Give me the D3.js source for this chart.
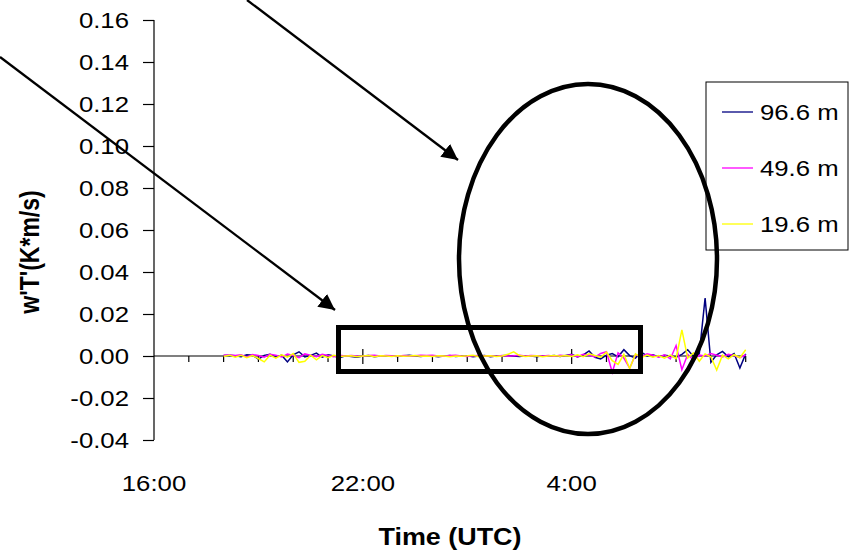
<!DOCTYPE html>
<html>
<head>
<meta charset="utf-8">
<script src="https://cdn.jsdelivr.net/npm/d3@7/dist/d3.min.js"></script>
<style>
  html, body { margin: 0; padding: 0; background: #fff; }
  svg { display: block; font-family: "Liberation Sans", Arial, sans-serif; }
</style>
</head>
<body>
<svg id="chart" width="857" height="551"></svg>
<script>
// Sensible heat flux w'T' (K*m/s), 10-minute values from 18:00 to 9:00 UTC
const startHour = 2;          // first sample, hours after 16:00
const stepHours = 1 / 6;      // 10-minute spacing

const series = ["96.6 m", "49.6 m", "19.6 m"];
const colors = ["#000080", "#ff00ff", "#ffff00"];

const flux966 = [
  0.0002, 0.0004, 0.0001, -0.0003, 0.0006, 0.0004, -0.0015, 0.0003, 0.0008, -0.0006,
  0.0004, -0.0028, 0.0006, 0.0020, -0.0004, 0.0003, 0.0014, -0.0006, 0.0006, 0.0000,
  -0.0008, 0.0001, -0.0002, -0.0006, 0.0000, 0.0002, -0.0003, 0.0000, 0.0001, 0.0000,
  -0.0002, 0.0001, 0.0003, 0.0000, -0.0002, 0.0001, 0.0000, -0.0003, 0.0000, 0.0002,
  -0.0002, 0.0000, 0.0001, -0.0004, 0.0000, 0.0002, -0.0003, 0.0000, 0.0001, 0.0003,
  0.0000, -0.0002, 0.0001, 0.0000, -0.0003, 0.0001, 0.0000, 0.0002, -0.0002, 0.0003,
  0.0008, -0.0004, 0.0005, 0.0024, -0.0006, -0.0014, 0.0004, 0.0012, -0.0004, 0.0030,
  0.0002, -0.0010, 0.0018, 0.0000, 0.0006, -0.0004, 0.0003, 0.0000, -0.0006, 0.0008,
  0.0030, -0.0002, 0.0010, 0.0276, -0.0030, 0.0006, 0.0022, -0.0004, 0.0012, -0.0057,
  0.0010
];

const flux496 = [
  0.0003, 0.0005, 0.0002, 0.0006, -0.0004, 0.0007, 0.0002, -0.0006, 0.0008, 0.0004,
  -0.0005, 0.0009, 0.0002, -0.0008, 0.0010, 0.0004, -0.0003, 0.0008, 0.0002, -0.0004,
  0.0003, 0.0000, 0.0002, 0.0000, -0.0001, 0.0002, 0.0004, 0.0000, 0.0002, 0.0001,
  -0.0001, 0.0002, 0.0000, 0.0001, 0.0003, 0.0002, 0.0004, 0.0000, -0.0001, 0.0002,
  0.0003, 0.0000, -0.0002, 0.0001, 0.0002, 0.0000, 0.0001, -0.0001, 0.0002, 0.0000,
  0.0001, 0.0003, 0.0000, 0.0002, 0.0001, 0.0000, 0.0002, -0.0001, 0.0003, 0.0001,
  0.0006, -0.0003, 0.0008, 0.0004, -0.0005, 0.0012, 0.0020, -0.0078, 0.0015, -0.0010,
  -0.0058, 0.0006, -0.0004, 0.0010, 0.0004, -0.0006, 0.0006, -0.0014, 0.0050, -0.0065,
  0.0008, -0.0020, 0.0004, 0.0000, 0.0012, 0.0004, -0.0004, 0.0008, 0.0002, -0.0008,
  0.0006
];

const flux196 = [
  -0.0002, 0.0004, -0.0006, 0.0003, -0.0008, 0.0002, -0.0012, -0.0028, 0.0004, -0.0010,
  0.0006, -0.0006, 0.0012, -0.0030, -0.0025, 0.0004, -0.0018, 0.0002, -0.0008, 0.0003,
  -0.0002, 0.0000, 0.0001, -0.0003, 0.0000, 0.0002, -0.0004, 0.0001, 0.0000, -0.0002,
  0.0001, -0.0001, 0.0000, 0.0002, -0.0001, 0.0000, -0.0002, 0.0001, 0.0000, -0.0004,
  0.0000, -0.0001, 0.0001, 0.0004, -0.0003, 0.0000, 0.0001, -0.0002, 0.0000, 0.0008,
  0.0020, 0.0002, -0.0002, 0.0000, 0.0001, -0.0003, 0.0000, 0.0002, -0.0001, 0.0002,
  -0.0002, 0.0006, -0.0003, 0.0010, 0.0002, -0.0006, 0.0018, -0.0022, -0.0040, 0.0008,
  -0.0060, 0.0010, -0.0008, 0.0004, -0.0006, 0.0002, -0.0010, 0.0004, -0.0012, 0.0124,
  -0.0010, 0.0015, -0.0025, 0.0010, -0.0004, -0.0067, 0.0004, -0.0014, 0.0006, -0.0008,
  0.0030
];

const yTicks = [-0.04, -0.02, 0.00, 0.02, 0.04, 0.06, 0.08, 0.10, 0.12, 0.14, 0.16];
const xTickHours = [0, 6, 12];
const xTickLabels = ["16:00", "22:00", "4:00"];

const SX = 1.17; // horizontal stretch of the lettering
const svg = d3.select("#chart");

const x = d3.scaleLinear().domain([0, 16.98]).range([154, 745]);
const y = d3.scaleLinear().domain([-0.04, 0.16]).range([440, 20]);

function label(g, px, py, str, anchor, size, weight) {
  return g.append("text")
    .attr("transform", `translate(${px},${py}) scale(${SX},1)`)
    .attr("text-anchor", anchor)
    .attr("font-size", size)
    .attr("font-weight", weight || "normal")
    .attr("fill", "#000")
    .text(str);
}

// Y axis
const yAxis = svg.append("g")
  .attr("transform", `translate(${x(0)},0)`)
  .call(d3.axisLeft(y).tickValues(yTicks).tickSize(11).tickFormat(""));
yAxis.select(".domain").attr("stroke", "#000").attr("stroke-width", 1.2).attr("d", `M0,${y(-0.04)}V${y(0.16)}`);
yAxis.selectAll(".tick line").attr("stroke", "#000").attr("stroke-width", 1.2);
const fmt = v => d3.format(".2f")(v).replace("\u2212", "-");
yTicks.forEach(v => label(svg, 129, y(v) + 8, fmt(v), "end", 22));

// X axis along zero
const xg = svg.append("g").attr("transform", `translate(0,${y(0)})`);
xg.append("line").attr("x1", x(0)).attr("x2", x(16.98)).attr("stroke", "#000").attr("stroke-width", 1.2);
const hourTicks = d3.range(1, 18);
xg.selectAll("line.tk").data(hourTicks).join("line")
  .attr("class", "tk")
  .attr("x1", d => x(d)).attr("x2", d => x(d))
  .attr("y1", d => (d % 6 === 0 ? -7 : 0))
  .attr("y2", d => (d % 6 === 0 ? 8 : 6))
  .attr("stroke", "#000").attr("stroke-width", 1.2);
xTickHours.forEach((h, i) => label(svg, x(h), 491, xTickLabels[i], "middle", 22));

// Axis titles
label(svg, 450, 545, "Time (UTC)", "middle", 23, "bold");
svg.append("text")
  .attr("transform", `translate(39,252) scale(${SX},1) rotate(-90)`)
  .attr("text-anchor", "middle")
  .attr("font-size", 23)
  .attr("font-weight", "bold")
  .text("w'T'(K*m/s)");

// Series lines
const data = [flux966, flux496, flux196];
const line = d3.line()
  .x((d, i) => x(startHour + i * stepHours))
  .y(d => y(d));
data.forEach((vals, k) => {
  svg.append("path")
    .datum(vals)
    .attr("d", line)
    .attr("fill", "none")
    .attr("stroke", colors[k])
    .attr("stroke-width", 1.5)
    .attr("stroke-linejoin", "miter");
});

// Legend
const lg = svg.append("g");
lg.append("rect").attr("x", 706).attr("y", 82).attr("width", 142).attr("height", 168)
  .attr("fill", "#fff").attr("stroke", "#000").attr("stroke-width", 1);
series.forEach((name, i) => {
  const cy = 112 + i * 56;
  lg.append("line").attr("x1", 722).attr("x2", 753).attr("y1", cy).attr("y2", cy)
    .attr("stroke", colors[i]).attr("stroke-width", 1.3);
  label(lg, 760, cy + 8, name, "start", 22);
});

// Highlight annotations
svg.append("rect").attr("x", 338.5).attr("y", 327.5).attr("width", 302).attr("height", 44)
  .attr("fill", "none").attr("stroke", "#000").attr("stroke-width", 5);
svg.append("ellipse").attr("cx", 588).attr("cy", 259).attr("rx", 129).attr("ry", 175)
  .attr("fill", "none").attr("stroke", "#000").attr("stroke-width", 4.5);

svg.append("defs").append("marker")
  .attr("id", "head").attr("viewBox", "0 0 10 10").attr("refX", 10).attr("refY", 5)
  .attr("markerWidth", 7).attr("markerHeight", 7).attr("markerUnits", "strokeWidth")
  .attr("orient", "auto")
  .append("path").attr("d", "M0,0L10,5L0,10Z").attr("fill", "#000");
[[247, 0, 458, 160], [0, 57, 335, 310]].forEach(([x1, y1, x2, y2]) => {
  svg.append("line").attr("x1", x1).attr("y1", y1).attr("x2", x2).attr("y2", y2)
    .attr("stroke", "#000").attr("stroke-width", 2.3).attr("marker-end", "url(#head)");
});
</script>
</body>
</html>
